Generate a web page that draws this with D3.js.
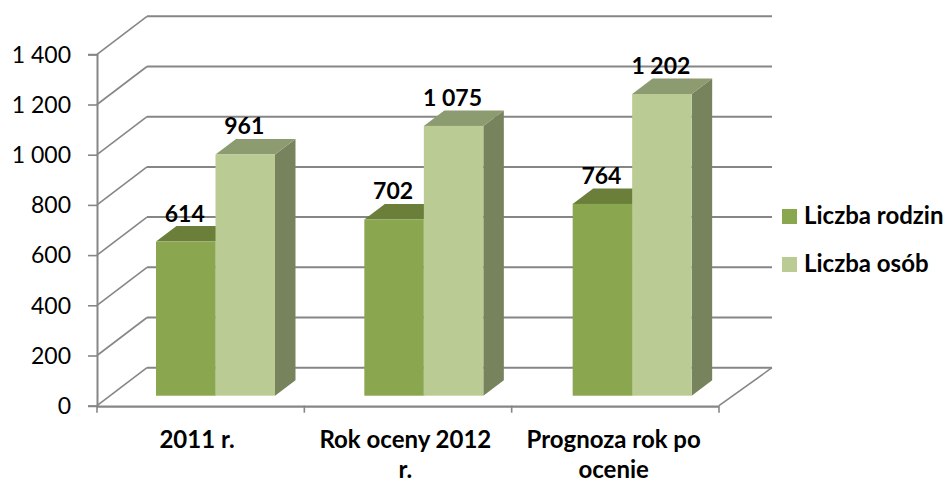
<!DOCTYPE html>
<html>
<head>
<meta charset="utf-8">
<script src="https://d3js.org/d3.v7.min.js"></script>
<style>
  html, body { margin: 0; padding: 0; background: #fff; }
  svg { display: block; }
  text { font-family: Lato, "Open Sans", sans-serif; fill: #000; }
</style>
</head>
<body>
<script>
    // dane
    const categories = ["2011 r.", "Rok oceny 2012 r.", "Prognoza rok po ocenie"];
    const categoryLines = [["2011 r."], ["Rok oceny 2012", "r."], ["Prognoza rok po", "ocenie"]];
    const seriesNames = ["Liczba rodzin", "Liczba osób"];
    const liczbaRodzin = [614, 702, 764];
    const liczbaOsob = [961, 1075, 1202];
    const yTicks = [0, 200, 400, 600, 800, 1000, 1200, 1400];

    const width = 947, height = 482;
    const depth = {x: 50, y: -38};        // glebokosc sciany
    const barDepth = {x: 20.5, y: -15.5}; // glebokosc slupka
    const barLift = 10;                   // slupek stoi w srodku podlogi

    const colors = [
        {front: "#8aa64f", top: "#6b7f3a", side: "#6b7f3a"},
        {front: "#bacc94", top: "#8c9b70", side: "#76835d"}
    ];
    const gridColor = "#868686";

    const fmt = d => d3.format(",")(d).replace(/,/g, " ");

    const svg = d3.select("body").append("svg")
        .attr("width", width)
        .attr("height", height);

    const y = d3.scaleLinear().domain([0, 1400]).range([405.7, 54.3]);
    const x = d3.scaleBand().domain(categories).range([97, 719]);
    const xGroup = d3.scaleBand().domain(categories).range([156, 781]);
    const xBar = d3.scaleBand().domain(seriesNames).range([0, 119]);

    // linie siatki: skos na scianie bocznej i pozioma na tylnej
    const grid = svg.append("g").attr("fill", "none").attr("stroke", gridColor);
    grid.selectAll(".skos")
        .data(yTicks)
        .join("line")
        .attr("class", "skos")
        .attr("stroke-width", 1.6)
        .attr("x1", 97).attr("y1", d => y(d))
        .attr("x2", 97 + depth.x).attr("y2", d => y(d) + depth.y);
    grid.selectAll(".back")
        .data(yTicks)
        .join("line")
        .attr("class", "back")
        .attr("stroke-width", 2)
        .attr("x1", 97 + depth.x).attr("y1", d => y(d) + depth.y)
        .attr("x2", 772).attr("y2", d => y(d) + depth.y);

    // podloga
    grid.append("path")
        .attr("stroke-width", 1.6)
        .attr("d", `M719,${y(0)}L772,${y(0) + depth.y}`);

    // os Y
    const axisY = svg.append("g")
        .attr("transform", "translate(97,0)")
        .call(d3.axisLeft(y).tickValues(yTicks).tickFormat(fmt).tickSize(9).tickPadding(17));
    axisY.selectAll("line").attr("stroke", gridColor).attr("stroke-width", 1.6);
    axisY.select(".domain").attr("stroke", gridColor).attr("stroke-width", 2);
    axisY.selectAll("text").style("font-size", "23px").attr("dy", "0.34em");

    // os X
    const xEdges = categories.map(c => x(c)).concat(x.range()[1]);
    const axisX = svg.append("g");
    axisX.append("line")
        .attr("x1", 97).attr("x2", 719)
        .attr("y1", y(0) + 1).attr("y2", y(0) + 1)
        .attr("stroke", gridColor).attr("stroke-width", 2.2);
    axisX.selectAll(".tick")
        .data(xEdges)
        .join("line")
        .attr("class", "tick")
        .attr("x1", d => d).attr("x2", d => d)
        .attr("y1", y(0)).attr("y2", y(0) + 7)
        .attr("stroke", gridColor).attr("stroke-width", 1.6);

    // podpisy kategorii
    const catLabels = svg.append("g")
        .attr("text-anchor", "middle")
        .style("font-weight", 700)
        .style("font-size", "24px");
    categories.forEach((c, i) => {
        const cx = xGroup(c) + xBar.range()[1] / 2 - 18.5;
        categoryLines[i].forEach((line, j) => {
            catLabels.append("text")
                .attr("x", cx)
                .attr("y", 448 + j * 30)
                .text(line);
        });
    });

    // slupki
    const bars = categories.flatMap((c, i) => [
        {cat: c, s: 0, name: seriesNames[0], value: liczbaRodzin[i]},
        {cat: c, s: 1, name: seriesNames[1], value: liczbaOsob[i]}
    ]);

    const barG = svg.append("g").selectAll("g")
        .data(bars)
        .join("g");

    const bx = d => xGroup(d.cat) + xBar(d.name);
    const bw = xBar.bandwidth();
    const by = d => y(d.value) - barLift;
    const by0 = y(0) - barLift;

    barG.append("path")
        .attr("fill", d => colors[d.s].side)
        .attr("d", d => `M${bx(d) + bw},${by(d)}l${barDepth.x},${barDepth.y}L${bx(d) + bw + barDepth.x},${by0 + barDepth.y}L${bx(d) + bw},${by0}Z`);
    barG.append("path")
        .attr("fill", d => colors[d.s].top)
        .attr("d", d => `M${bx(d)},${by(d)}l${barDepth.x},${barDepth.y}h${bw}l${-barDepth.x},${-barDepth.y}Z`);
    barG.append("rect")
        .attr("x", bx)
        .attr("y", by)
        .attr("width", bw)
        .attr("height", d => by0 - by(d))
        .attr("fill", d => colors[d.s].front);

    // etykiety danych
    svg.append("g")
        .attr("text-anchor", "middle")
        .style("font-weight", 700)
        .style("font-size", "23px")
        .selectAll("text")
        .data(bars)
        .join("text")
        .attr("x", d => bx(d) + bw / 2 - 1)
        .attr("y", d => by(d) - 20)
        .text(d => fmt(d.value));

    // legenda
    const legendY = [209, 257];
    const legend = svg.append("g").selectAll("g")
        .data(seriesNames)
        .join("g")
        .attr("transform", (d, i) => `translate(782,${legendY[i]})`);
    legend.append("rect")
        .attr("width", 15).attr("height", 15)
        .attr("fill", (d, i) => colors[i].front);
    legend.append("text")
        .attr("x", 22).attr("y", 15)
        .style("font-weight", 700)
        .style("font-size", "24px")
        .text(d => d);
</script>
</body>
</html>
